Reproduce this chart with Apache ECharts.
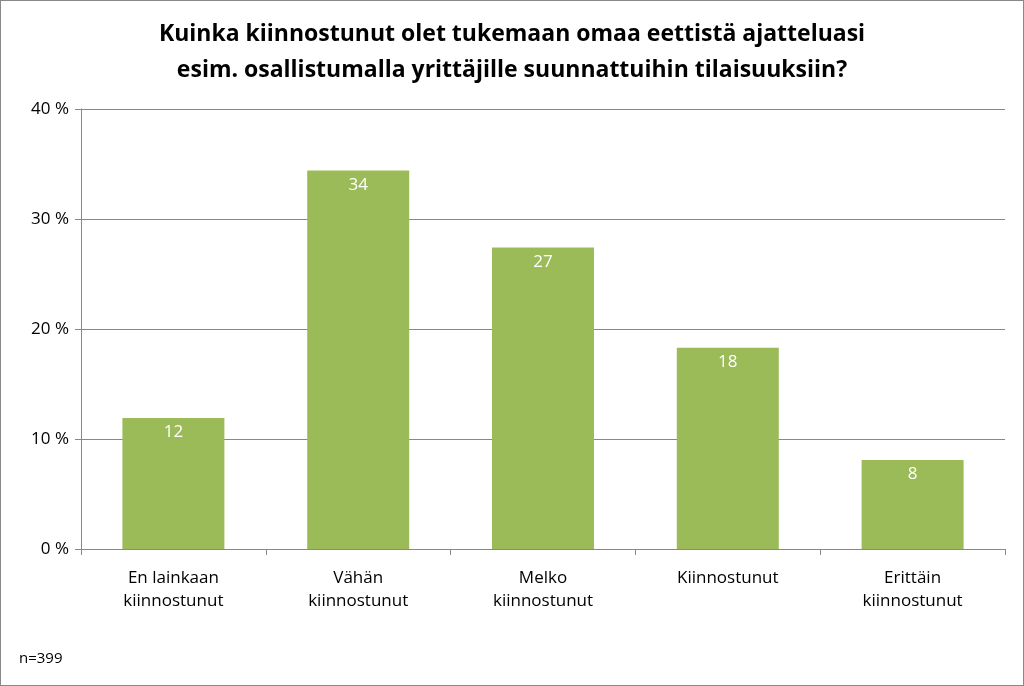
<!DOCTYPE html>
<html>
<head>
<meta charset="utf-8">
<script src="https://cdn.jsdelivr.net/npm/echarts@6/dist/echarts.min.js"></script>
<style>
html,body{margin:0;padding:0;background:#fff}
#chart{width:1022px;height:684px;border:1px solid #888}
</style>
</head>
<body>
<div id="chart"></div>
<script>
var categories = ['En lainkaan\nkiinnostunut', 'Vähän\nkiinnostunut', 'Melko\nkiinnostunut', 'Kiinnostunut', 'Erittäin\nkiinnostunut'];
var values = [11.9, 34.4, 27.4, 18.3, 8.1];
var labels = ['12', '34', '27', '18', '8'];

var chart = echarts.init(document.getElementById('chart'));
chart.setOption({
  textStyle: { fontFamily: 'Open Sans' },
  title: {
    text: 'Kuinka kiinnostunut olet tukemaan omaa eettistä ajatteluasi\nesim. osallistumalla yrittäjille suunnattuihin tilaisuuksiin?',
    left: 'center', top: 10,
    textStyle: { fontSize: 23, fontWeight: 'bold', color: '#000', lineHeight: 36, fontFamily: 'Open Sans' }
  },
  graphic: [{ type: 'text', left: 18, top: 650, style: { text: 'n=399', fontSize: 15, fill: '#000', fontFamily: 'Open Sans' } }],
  grid: { left: 80, right: 18, top: 108, bottom: 136 },
  xAxis: {
    type: 'category', data: categories,
    axisLine: { lineStyle: { color: '#888' } },
    axisTick: { show: true, alignWithLabel: false, length: 6, lineStyle: { color: '#888' } },
    axisLabel: { fontSize: 17, color: '#000', lineHeight: 23, margin: 18 }
  },
  yAxis: {
    type: 'value', min: 0, max: 40, interval: 10,
    axisLine: { show: true, lineStyle: { color: '#888' } },
    axisTick: { show: true, length: 6, lineStyle: { color: '#888' } },
    splitLine: { lineStyle: { color: '#888' } },
    axisLabel: { fontSize: 17, color: '#000', formatter: '{value} %', margin: 12 }
  },
  series: [{
    type: 'bar', data: values, barWidth: 102,
    itemStyle: { color: '#9bbb59' },
    label: {
      show: true, position: 'insideTop', distance: 6, color: '#fff', fontSize: 17,
      formatter: function (p) { return labels[p.dataIndex]; }
    }
  }]
});
</script>
</body>
</html>
